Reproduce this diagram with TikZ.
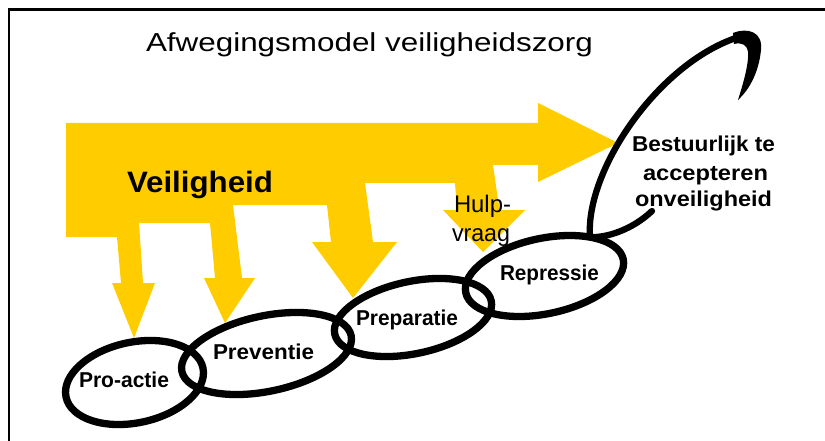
\documentclass[tikz,border=0pt]{standalone}
\usepackage{graphicx}
\usepackage{fontspec}
\setmainfont{Liberation Sans}
\usetikzlibrary{shapes.geometric}
\definecolor{gold}{RGB}{255,204,0}
\newcommand\fitw[2]{\resizebox{#1}{\height}{#2}}
\begin{document}
\begin{tikzpicture}[x=1pt,y=-1pt,
  txt/.style={inner sep=0pt, outer sep=0pt, anchor=base west},
  lbl/.style={txt, font=\bfseries\fontsize{21.5}{25}\selectfont},
  ring/.style={ellipse, draw=black, line width=7.3pt, inner sep=0pt, rotate=12},
  frameline/.style={line width=2.3pt, line cap=butt, line join=miter}
]
\useasboundingbox (0,0) rectangle (825,441);
% frame
\coordinate (fb) at (9,441);
\coordinate (fc) at (9,9.5);
\coordinate (fr) at (825,9.5);
\draw[frameline] (fb) -- (fc) -- (fr);
% yellow arrows
\fill[gold] (66,123) -- (538,123) -- (538,103) -- (618,143) -- (538,182) -- (538,165)
  -- (493,165) -- (498,200) -- (500,210) -- (525,210) -- (483,252) -- (443,210)
  -- (457,210) -- (455,183) -- (365,183) -- (373,242) -- (397,242) -- (353,298)
  -- (312,242) -- (331,242) -- (327,205) -- (233,205) -- (242,278) -- (255,278)
  -- (225,323) -- (204,278) -- (215,278) -- (210,223) -- (139,223) -- (143,283)
  -- (155,283) -- (134,338) -- (112,283) -- (121,283) -- (117,237) -- (66,237) -- cycle;
% title
\node[txt, font=\fontsize{26}{30}\selectfont] (title) at (146,52) {\fitw{447pt}{Afwegingsmodel veiligheidszorg}};
\node[txt, font=\bfseries\fontsize{29.5}{34}\selectfont] (veil) at (127,193) {\fitw{146pt}{Veiligheid}};
\node[txt, font=\fontsize{24}{28}\selectfont] (hulp) at (454,212) {\fitw{57pt}{Hulp-}};
\node[txt, font=\fontsize{24}{28}\selectfont] (vraag) at (452,241) {\fitw{58pt}{vraag}};
\node[lbl] (b1) at (632,152) {\fitw{143pt}{Bestuurlijk te}};
\node[lbl] (b2) at (643,180) {\fitw{125pt}{accepteren}};
\node[lbl] (b3) at (635,206) {\fitw{137pt}{onveiligheid}};
% rings
\node[ring, minimum width=140pt, minimum height=80.6pt] (r1) at (134.5,382.5) {};
\node[ring, minimum width=173pt, minimum height=75.4pt] (r2) at (266.5,353.5) {};
\node[ring, minimum width=160pt, minimum height=72.2pt] (r3) at (413,317.5) {};
\node[ring, minimum width=161pt, minimum height=75.4pt] (r4) at (544.5,276) {};
% ring labels
\node[lbl] (l1) at (79,387) {\fitw{90pt}{Pro-actie}};
\node[lbl] (l2) at (213,359) {\fitw{101pt}{Preventie}};
\node[lbl] (l3) at (356,325) {\fitw{102pt}{Preparatie}};
\node[lbl] (l4) at (500,280) {\fitw{99pt}{Repressie}};
% swirl
\coordinate (s1) at (652,211);
\coordinate (s2) at (590,237);
\coordinate (s3) at (742,36);
\draw[line width=6.3pt, line cap=round, line join=round] (s1) .. controls (632,230) and (606,238) .. (s2)
  .. controls (585,170) and (660,60) .. (s3);
\fill (733,33) .. controls (748,27) and (763,32) .. (761,50)
  .. controls (759,70) and (751,88) .. (738,100)
  .. controls (743,84) and (749,64) .. (748,52)
  .. controls (747,45) and (742,42) .. (734,44) -- cycle;
\end{tikzpicture}
\end{document}
